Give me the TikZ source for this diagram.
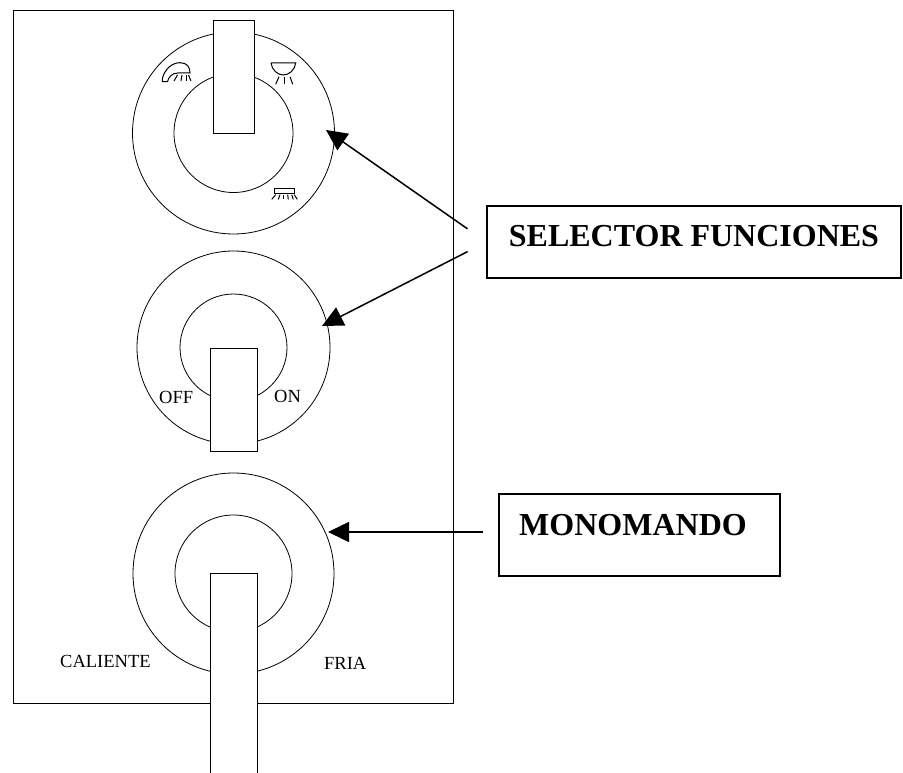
\documentclass[tikz,border=0pt]{standalone}
\usepackage{fontspec}
\setmainfont{Liberation Serif}
\usetikzlibrary{arrows.meta,shapes.geometric}
\tikzset{
  panel/.style={draw,line width=0.9pt,minimum width=440.5pt,minimum height=693pt,inner sep=0pt},
  knob/.style={draw,circle,line width=0.8pt,inner sep=0pt},
  lever/.style={draw,fill=white,line width=0.9pt,inner sep=0pt},
  lbox/.style={draw,line width=1.3pt,align=center,inner sep=0pt,font=\fontsize{32}{34}\selectfont\bfseries},
  lbl/.style={anchor=base west,inner sep=0pt,font=\fontsize{18.5}{20}\selectfont},
  arr/.style={-{Triangle[length=21pt,width=20pt]},line width=1.5pt},
  ico/.style={line width=1pt}
}
\begin{document}
\begin{tikzpicture}[x=1pt,y=-1pt]
\useasboundingbox (0,0) rectangle (903,773);
\node[panel] (front) at (233.25,356.5) {};
\foreach \i/\y/\ro/\ri in {1/133/202/119,2/347.5/193/107,3/573.5/201/117}{
  \node[knob,minimum size=\ro pt] (ko\i) at (233.5,\y) {};
  \node[knob,minimum size=\ri pt] (ki\i) at (233.5,\y) {};
}
\foreach \i/\x/\y/\w/\h in {1/233.5/76.5/41/113,2/233.5/399.5/47/103,3/233.5/683/47/220}{
  \node[lever,minimum width=\w pt,minimum height=\h pt] (lv\i) at (\x,\y) {};
}
% icons
\draw[ico] (162.3,81.7) -- (162.5,78) .. controls (165,69) and (172,62.7) .. (180,62.7) .. controls (187,62.7) and (190,67) .. (190,73) -- (178,73) .. controls (172,73) and (168.5,77) .. (167.5,81.7) -- cycle;
\foreach \a/\b in {174/177.5,181/182,186/186,191/188.5}{
  \draw[ico] (\a,81) -- (\b,75);
}
\draw[ico] (271,63) -- (295.7,63) .. controls (295,70) and (289,75) .. (283.3,75) .. controls (277.5,75) and (272,70) .. (271,63);
\foreach \a/\b in {275.7/279,284.3/284.3,292.7/290}{
  \draw[ico] (\a,84.3) -- (\b,76.7);
}
\draw[ico] (274.3,188.3) rectangle (294.7,194);
\foreach \a/\b in {275.7/271.7,280/278.3,283.3/283.3,287.7/288.3,291.7/293.3,294.3/297.3}{
  \draw[ico] (\a,194.7) -- (\b,199.4);
}
\node[lbl] (off) at (159,403) {OFF};
\node[lbl] (on) at (274,402) {ON};
\node[lbl] (hot) at (60,667) {CALIENTE};
\node[lbl] (cold) at (324,669) {FRIA};
\node[lbox,minimum width=414pt,minimum height=72pt,text height=22pt,text depth=12pt] (selbox) at (694,242) {SELECTOR FUNCIONES};
\node[lbox,minimum width=281pt,minimum height=82pt,text height=22pt,text depth=22pt] (monobox) at (639.5,535) {MONOMANDO\hspace*{13pt}};
\coordinate (tipa) at (326,130);
\coordinate (tipb) at (322,326);
\coordinate (tipc) at (328,532);
\draw[arr,shorten <=23pt] (selbox.west) -- (tipa);
\draw[arr,shorten <=21pt] (selbox.west) -- (tipb);
\draw[arr,shorten <=15pt] (monobox.west |- tipc) -- (tipc);
\end{tikzpicture}
\end{document}
